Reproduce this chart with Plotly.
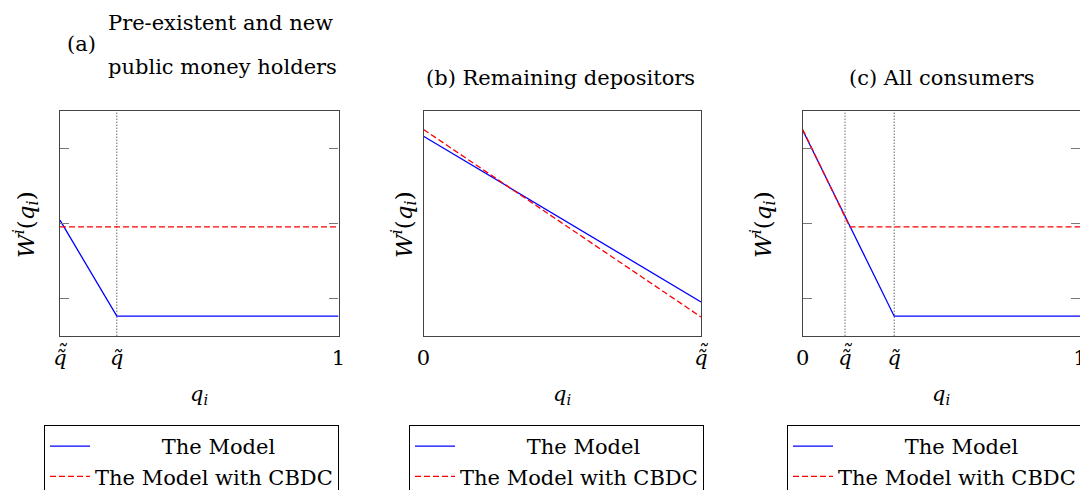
import plotly.graph_objects as go

# ---------------- data ----------------
# panel (a): pre-existent and new public money holders
a_q_model = [0.0, 0.204, 1.0]
a_w_model = [1.54, 0.26, 0.26]
a_q_cbdc = [0.0, 1.0]
a_w_cbdc = [1.45, 1.45]
a_tickvals = [0.0, 0.204, 1.0]
a_vlines = [0.204]
a_double_tilde = [0.0]

# panel (b): remaining depositors
b_q_model = [0.0, 1.0]
b_w_model = [2.66, 0.45]
b_q_cbdc = [0.0, 1.0]
b_w_cbdc = [2.75, 0.25]
b_tickvals = [0.0, 1.0]
b_double_tilde = [1.0]

# panel (c): all consumers
c_q_model = [0.0, 0.330, 1.0]
c_w_model = [2.74, 0.26, 0.26]
c_q_cbdc = [0.0, 0.170, 1.0]
c_w_cbdc = [2.75, 1.45, 1.45]
c_tickvals = [0.0, 0.1525, 0.330, 1.0]
c_vlines = [0.1525, 0.330]
c_double_tilde = [0.1525]

y_tickvals = [0.5, 1.5, 2.5]
y_range = [0, 3]

QT = "<i>q\u0303</i>"
QTT = QT  # second tilde added above as an accent
a_ticktext = [QTT, QT, "1"]
b_ticktext = ["0", QTT]
c_ticktext = ["0", QTT, QT, "1"]

series_names = ["The Model", "The Model with CBDC"]
titles = ["(b) Remaining depositors", "(c) All consumers"]

# ---------------- layout helpers ----------------
W, H = 1088, 490
OFF = 8  # page body margin in the browser
FONT = "DejaVu Serif"
FS = 21


def px(x):
    return (x - OFF) / W


def py(y):
    return 1 - (y - OFF) / H


BLUE = "#0000ff"
RED = "#ff0000"
FRAME = "#444444"

fig = go.Figure()

panels = [
    dict(ax="", qm=a_q_model, wm=a_w_model, qc=a_q_cbdc, wc=a_w_cbdc, leg="legend"),
    dict(ax="2", qm=b_q_model, wm=b_w_model, qc=b_q_cbdc, wc=b_w_cbdc, leg="legend2"),
    dict(ax="3", qm=c_q_model, wm=c_w_model, qc=c_q_cbdc, wc=c_w_cbdc, leg="legend3"),
]

pad = "\u00a0" * 10
for p in panels:
    fig.add_trace(go.Scatter(
        x=p["qm"], y=p["wm"], mode="lines", name=pad + series_names[0],
        line=dict(color=BLUE, width=1.3), xaxis="x" + p["ax"], yaxis="y" + p["ax"],
        legend=p["leg"]))
    fig.add_trace(go.Scatter(
        x=p["qc"], y=p["wc"], mode="lines", name=series_names[1],
        line=dict(color=RED, width=1.3, dash="6px,3px"), xaxis="x" + p["ax"], yaxis="y" + p["ax"],
        legend=p["leg"]))

# vertical dotted reference lines
for v in a_vlines:
    fig.add_shape(type="line", xref="x", yref="y domain", x0=v, x1=v, y0=0, y1=1,
                  line=dict(color="#222222", width=1, dash="1px,2px"), layer="below")
for v in c_vlines:
    fig.add_shape(type="line", xref="x3", yref="y3 domain", x0=v, x1=v, y0=0, y1=1,
                  line=dict(color="#222222", width=1, dash="1px,2px"), layer="below")

# axes geometry (pixels in the browser window)
domains_x = [(60, 338.5), (423.5, 701), (802.7, 1080)]
top, bottom = 110.7, 335.7
ydom = [py(bottom), py(top)]

tickvals_list = [a_tickvals, b_tickvals, c_tickvals]
ticktext_list = [a_ticktext, b_ticktext, c_ticktext]

layout_axes = {}
for i, (x0, x1) in enumerate(domains_x):
    sfx = "" if i == 0 else str(i + 1)
    layout_axes["xaxis" + sfx] = dict(
        domain=[px(x0), px(x1)], range=[0, 1], anchor="y" + sfx,
        showline=True, linecolor=FRAME, linewidth=1.3, mirror=True,
        showgrid=False, zeroline=False,
        tickmode="array", tickvals=tickvals_list[i], ticktext=ticktext_list[i],
        ticks="", tickfont=dict(family=FONT, size=FS, color="black"),
        ticklabelstandoff=3, automargin=False, fixedrange=True,
    )
    show_y = i != 1
    layout_axes["yaxis" + sfx] = dict(
        domain=ydom, range=y_range, anchor="x" + sfx,
        showline=True, linecolor=FRAME, linewidth=1.3,
        mirror="ticks" if show_y else True,
        showgrid=False, zeroline=False,
        tickmode="array", tickvals=y_tickvals if show_y else [],
        ticks="inside" if show_y else "", ticklen=9, tickcolor="#777777", tickwidth=1,
        showticklabels=False, automargin=False, fixedrange=True,
    )

legend_common = dict(
    bgcolor="white", bordercolor="black", borderwidth=1,
    font=dict(family=FONT, size=FS, color="black"),
    xanchor="left", yanchor="top", y=py(425), itemwidth=40,
    traceorder="normal", tracegroupgap=0,
)

annotations = []
# titles
annotations.append(dict(text="(a)", x=px(81), y=py(44), showarrow=False,
                        xanchor="center", yanchor="middle"))
annotations.append(dict(text="Pre-existent and new", x=px(106), y=py(23), showarrow=False,
                        xanchor="left", yanchor="middle"))
annotations.append(dict(text="public money holders", x=px(106), y=py(67), showarrow=False,
                        xanchor="left", yanchor="middle"))
annotations.append(dict(text=titles[0], x=px(560), y=py(78), showarrow=False,
                        xanchor="center", yanchor="middle"))
annotations.append(dict(text=titles[1], x=px(941), y=py(78), showarrow=False,
                        xanchor="center", yanchor="middle"))

ylabel = "<i>W</i><sup><i>i</i></sup>(<i>q</i><sub><i>i</i></sub>)"
for xc in (25, 403, 762):
    annotations.append(dict(text=ylabel, x=px(xc), y=py(225), showarrow=False,
                            textangle=-90, xanchor="center", yanchor="middle",
                            font=dict(family=FONT, size=23, color="black")))
for xc in (199, 562, 941):
    annotations.append(dict(text="<i>q</i><sub><i>i</i></sub>", x=px(xc), y=py(395),
                            showarrow=False, xanchor="center", yanchor="middle"))

for a in annotations:
    a["xref"] = "paper"
    a["yref"] = "paper"
    a.setdefault("font", dict(family=FONT, size=FS, color="black"))

# second tilde accent over the double-tilde tick labels
for axname, vals in (("x", a_double_tilde), ("x2", b_double_tilde), ("x3", c_double_tilde)):
    for v in vals:
        annotations.append(dict(text="<i>\u02dc</i>", x=v, xref=axname, y=py(352), yref="paper",
                                showarrow=False, xanchor="center", yanchor="middle", xshift=2,
                                font=dict(family=FONT, size=FS, color="black")))

fig.update_layout(
    width=W, height=H,
    margin=dict(l=0, r=0, t=0, b=0, autoexpand=False),
    paper_bgcolor="white", plot_bgcolor="white",
    font=dict(family=FONT, size=FS, color="black"),
    showlegend=True,
    legend=dict(legend_common, x=px(44)),
    legend2=dict(legend_common, x=px(409)),
    legend3=dict(legend_common, x=px(787)),
    annotations=annotations,
    **layout_axes,
)

fig.write_html("out.html")
